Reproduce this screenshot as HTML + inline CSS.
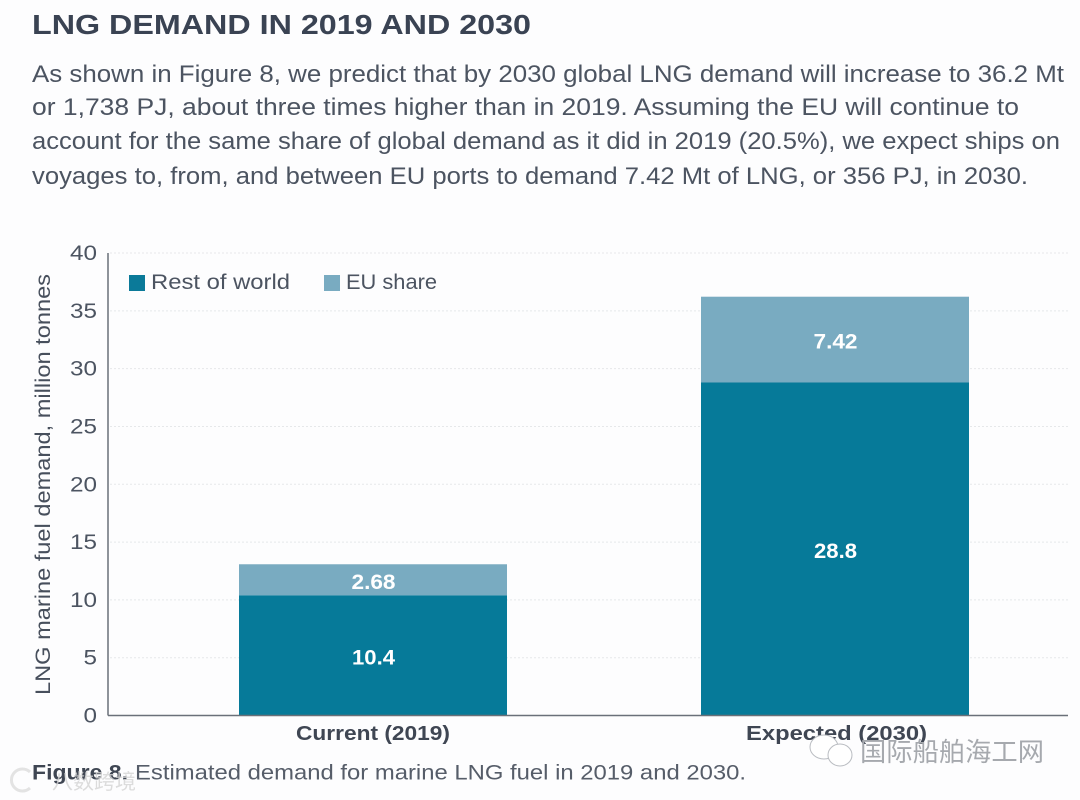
<!DOCTYPE html>
<html lang="en">
<head>
<meta charset="utf-8">
<title>LNG demand in 2019 and 2030</title>
<style>
html,body{margin:0;padding:0;background:#fdfdfe;}
body{width:1080px;height:800px;overflow:hidden;}
svg{display:block;font-family:"Liberation Sans","Noto Sans CJK SC",sans-serif;}
</style>
</head>
<body>
<svg id="page" width="1080" height="800" viewBox="0 0 1080 800" xmlns="http://www.w3.org/2000/svg">
  <rect x="0" y="0" width="1080" height="800" fill="#fdfdfe"/>
  <text x="32" y="34" font-size="28" font-weight="700" fill="#3a4353" textLength="499" lengthAdjust="spacingAndGlyphs">LNG DEMAND IN 2019 AND 2030</text>
  <g font-size="24" fill="#4c5461">
    <text x="32" y="82" textLength="1032" lengthAdjust="spacingAndGlyphs">As shown in Figure 8, we predict that by 2030 global LNG demand will increase to 36.2 Mt</text>
    <text x="32" y="115" textLength="987" lengthAdjust="spacingAndGlyphs">or 1,738 PJ, about three times higher than in 2019. Assuming the EU will continue to</text>
    <text x="32" y="149" textLength="1028" lengthAdjust="spacingAndGlyphs">account for the same share of global demand as it did in 2019 (20.5%), we expect ships on</text>
    <text x="32" y="184" textLength="996" lengthAdjust="spacingAndGlyphs">voyages to, from, and between EU ports to demand 7.42 Mt of LNG, or 356 PJ, in 2030.</text>
  </g>
  <g id="chart"></g>
  <text transform="translate(50 695) rotate(-90)" font-size="21" fill="#474f5c" textLength="421" lengthAdjust="spacingAndGlyphs">LNG marine fuel demand, million tonnes</text>
  <g>
    <rect x="129" y="275" width="16" height="16" fill="#0b7a99"/>
    <text x="151" y="289" font-size="21" fill="#4c5461" textLength="139" lengthAdjust="spacingAndGlyphs">Rest of world</text>
    <rect x="324" y="275" width="16" height="16" fill="#79abc1"/>
    <text x="346" y="289" font-size="21" fill="#4c5461" textLength="91" lengthAdjust="spacingAndGlyphs">EU share</text>
  </g>
  <g font-size="21">
    <text x="32" y="779.5" font-weight="700" fill="#3f4653" textLength="96" lengthAdjust="spacingAndGlyphs">Figure 8.</text>
    <text x="135" y="779.5" fill="#565d69" textLength="611" lengthAdjust="spacingAndGlyphs">Estimated demand for marine LNG fuel in 2019 and 2030.</text>
  </g>
  <g opacity="0.8">
    <path d="M30 772 A11 11 0 1 0 30 788" fill="none" stroke="#dddddd" stroke-width="3"/>
    <text x="52" y="789" font-size="21" fill="#d4d4d4">八数跨境</text>
  </g>
  <g>
    <ellipse cx="824" cy="747" rx="14" ry="12" fill="#ffffff" stroke="#b9bcc1" stroke-width="1"/>
    <ellipse cx="840" cy="755" rx="12" ry="11" fill="#ffffff" stroke="#b9bcc1" stroke-width="1"/>
    <text x="860" y="761" font-size="26" fill="#a6a9ae" textLength="184" lengthAdjust="spacingAndGlyphs">国际船舶海工网</text>
  </g>
</svg>
<script>
const categories = ['Current (2019)', 'Expected (2030)'];
const restOfWorld = [10.4, 28.8];
const euShare = [2.68, 7.42];
const restLabels = ['10.4', '28.8'];
const euLabels = ['2.68', '7.42'];
const yTicks = [0, 5, 10, 15, 20, 25, 30, 35, 40];

const SVG_NS = 'http://www.w3.org/2000/svg';
const chart = document.getElementById('chart');
const plot = { left: 108, right: 1068, top: 253, bottom: 715.5, yMax: 40, band: 462, firstCenter: 373, barWidth: 268 };

function yScale(v) {
  return plot.bottom - (v / plot.yMax) * (plot.bottom - plot.top);
}
function xCenter(i) {
  return plot.firstCenter + i * plot.band;
}
function make(tag, attrs, text) {
  const el = document.createElementNS(SVG_NS, tag);
  for (const k in attrs) el.setAttribute(k, attrs[k]);
  if (text !== undefined) el.textContent = text;
  chart.appendChild(el);
  return el;
}

yTicks.forEach(function (t) {
  if (t !== 0) {
    const grid = make('line', { x1: plot.left + 2, x2: plot.right, y1: yScale(t), y2: yScale(t), stroke: '#e6e8ea', 'stroke-width': 1, 'stroke-dasharray': '2 2' });
    
    
  }
  const tickText = String(t);
  const label = make('text', { x: 97, y: yScale(t) + 7, 'text-anchor': 'end', 'font-size': 21, fill: '#4c5461', textLength: tickText.length * 13.5, lengthAdjust: 'spacingAndGlyphs' }, tickText);
  
  
});

categories.forEach(function (cat, i) {
  const cx = xCenter(i);
  const x = cx - plot.barWidth / 2;
  const rest = restOfWorld[i];
  const eu = euShare[i];

  const lower = make('rect', { x: x, y: yScale(rest), width: plot.barWidth, height: yScale(0) - yScale(rest), fill: '#067a99' });
  
  

  const upper = make('rect', { x: x, y: yScale(rest + eu), width: plot.barWidth, height: yScale(rest) - yScale(rest + eu), fill: '#79abc1' });
  
  

  const restValue = make('text', { x: cx + 0.5, y: yScale(rest / 2) + 9, 'text-anchor': 'middle', 'font-size': 21, 'font-weight': 700, fill: '#ffffff', textLength: 43, lengthAdjust: 'spacingAndGlyphs' }, restLabels[i]);
  
  

  const euValue = make('text', { x: cx + 0.5, y: yScale(rest + eu / 2) + 9, 'text-anchor': 'middle', 'font-size': 21, 'font-weight': 700, fill: '#ffffff', textLength: 44, lengthAdjust: 'spacingAndGlyphs' }, euLabels[i]);
  
  

  const catLabel = make('text', { x: cx + (i === 0 ? 0 : 1.5), y: 740, 'text-anchor': 'middle', 'font-size': 20, 'font-weight': 700, fill: '#3f4653', textLength: i === 0 ? 154 : 181, lengthAdjust: 'spacingAndGlyphs' }, cat);
  
  
});

const yAxis = make('line', { x1: plot.left, x2: plot.left, y1: plot.top, y2: plot.bottom, stroke: '#6a7079', 'stroke-width': 1.5 });



const xAxis = make('line', { x1: plot.left, x2: plot.right, y1: plot.bottom, y2: plot.bottom, stroke: '#6a7079', 'stroke-width': 1.5 });


</script>
</body>
</html>
